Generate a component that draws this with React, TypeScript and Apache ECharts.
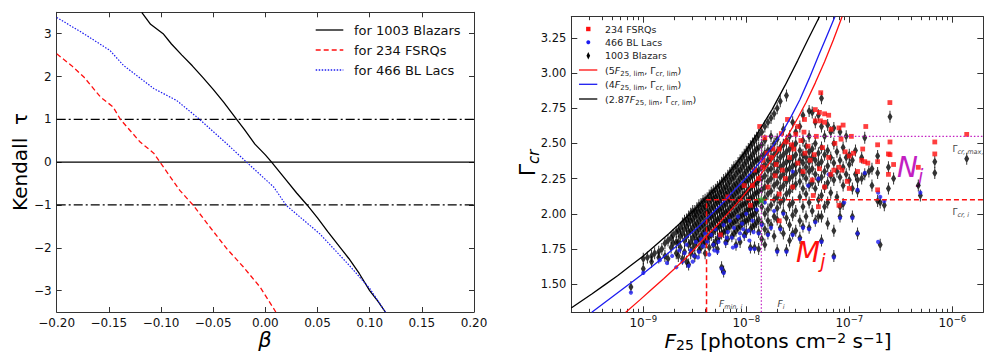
import React, { useEffect, useRef } from "react";
import * as echarts from "echarts";

// ---------- Left panel data ----------
const betaRange = [-0.2, 0.2];
const tauRange = [-3.5, 3.5];
const tauTicks = [-3, -2, -1, 0, 1, 2, 3];
const dashDotLevels = [1, -1];
const zeroLevel = 0;

const blazarTau = [
  [-0.1185, 3.5], [-0.11, 3.22], [-0.098, 3.0], [-0.09, 2.76], [-0.08, 2.5], [-0.07, 2.25],
  [-0.06, 1.98], [-0.05, 1.7], [-0.04, 1.4], [-0.0275, 1.0], [-0.02, 0.76], [-0.01, 0.42],
  [0.0, 0.17], [0.006, 0.0], [0.02, -0.42], [0.03, -0.72], [0.04, -1.0], [0.05, -1.3],
  [0.06, -1.63], [0.072, -2.0], [0.08, -2.25], [0.09, -2.6], [0.1, -3.0], [0.108, -3.25], [0.115, -3.5],
];
const fsrqTau = [
  [-0.2, 2.53], [-0.186, 2.26], [-0.174, 1.99], [-0.158, 1.52], [-0.146, 1.29], [-0.139, 1.0],
  [-0.12, 0.47], [-0.107, 0.21], [-0.101, 0.0], [-0.082, -0.66], [-0.069, -1.01], [-0.053, -1.52],
  [-0.037, -2.02], [-0.021, -2.45], [-0.005, -2.92], [0.01, -3.5],
];
const blLacTau = [
  [-0.2, 3.38], [-0.174, 3.0], [-0.149, 2.61], [-0.136, 2.26], [-0.107, 1.72], [-0.085, 1.44],
  [-0.063, 1.0], [-0.037, 0.43], [-0.018, 0.0], [0.008, -0.58], [0.02, -1.01], [0.052, -1.67],
  [0.08, -2.4], [0.1, -2.95], [0.115, -3.5],
];

// ---------- Right panel data (x = log10 F25) ----------
const logFRange = [-9.699, -5.699];
const gammaRange = [1.3, 3.4];
const gammaTicks = [1.5, 1.75, 2.0, 2.25, 2.5, 2.75, 3.0, 3.25];
const fluxDecades = [-9, -8, -7, -6];
const fluxMinorMultipliers = [2, 3, 4, 5, 6, 7, 8, 9];
const fluxMinorDecades = [-10, -9, -8, -7];

const limitCurve287 = [
  [-9.7, 1.33], [-9.6, 1.38], [-9.5, 1.43], [-9.375, 1.495], [-9.25, 1.56], [-9.125, 1.63],
  [-9.0, 1.7], [-8.875, 1.78], [-8.75, 1.86], [-8.625, 1.945], [-8.5, 2.03], [-8.375, 2.125],
  [-8.25, 2.22], [-8.125, 2.33], [-8.0, 2.45], [-7.875, 2.59], [-7.75, 2.74], [-7.625, 2.91],
  [-7.5, 3.09], [-7.4, 3.24], [-7.29, 3.4],
];
const limitCurve4 = [
  [-9.5, 1.3], [-9.4, 1.355], [-9.3, 1.41], [-9.2, 1.465], [-9.1, 1.52], [-8.975, 1.59],
  [-8.85, 1.665], [-8.725, 1.74], [-8.6, 1.82], [-8.475, 1.9], [-8.35, 1.99], [-8.225, 2.08],
  [-8.1, 2.18], [-7.975, 2.275], [-7.85, 2.38], [-7.75, 2.475], [-7.65, 2.58], [-7.565, 2.69],
  [-7.48, 2.81], [-7.39, 2.96], [-7.3, 3.12], [-7.22, 3.26], [-7.14, 3.4],
];
const limitCurve5 = [
  [-9.17, 1.3], [-9.03, 1.39], [-8.915, 1.465], [-8.8, 1.54], [-8.7, 1.607], [-8.6, 1.675],
  [-8.495, 1.755], [-8.39, 1.84], [-8.295, 1.91], [-8.2, 1.985], [-8.06, 2.1], [-7.965, 2.185],
  [-7.87, 2.27], [-7.775, 2.36], [-7.68, 2.46], [-7.59, 2.565], [-7.5, 2.68], [-7.42, 2.79],
  [-7.33, 2.93], [-7.24, 3.08], [-7.155, 3.235], [-7.07, 3.4],
];

const fMinLogI = -8.386;
const fLogI = -7.854;
const gammaCrI = 2.1;
const gammaCrMaxI = 2.55;

const blazarColumns: [number, number[]][] = [
  [-9.12, [1.48]], [-9.0, [1.61, 1.68]], [-8.96, [1.69]], [-8.92, [1.7, 1.66]], [-8.89, [1.72]],
  [-8.85, [1.73, 1.69]], [-8.82, [1.75]], [-8.79, [1.79, 1.7]], [-8.76, [1.81, 1.68]],
  [-8.73, [1.83, 1.76]], [-8.71, [1.85, 1.79]], [-8.68, [1.87, 1.8, 1.72]],
  [-8.66, [1.88, 1.8, 1.7]], [-8.64, [1.9, 1.84, 1.76]], [-8.62, [1.93, 1.86, 1.68]],
  [-8.6, [1.95, 1.89, 1.81, 1.73]], [-8.58, [1.96, 1.91, 1.84, 1.66]],
  [-8.56, [1.98, 1.93, 1.87, 1.78, 1.64]], [-8.54, [2.0, 1.95, 1.88, 1.8, 1.72]],
  [-8.52, [2.02, 1.96, 1.9, 1.83, 1.75]], [-8.5, [2.02, 1.98, 1.92, 1.85, 1.78, 1.7]],
  [-8.48, [2.04, 1.99, 1.93, 1.87, 1.81]], [-8.46, [2.06, 2.01, 1.95, 1.89, 1.82, 1.74]],
  [-8.44, [2.07, 2.02, 1.97, 1.91, 1.84, 1.76]], [-8.42, [2.09, 2.04, 1.98, 1.92, 1.86, 1.79]],
  [-8.4, [2.1, 2.05, 2.0, 1.94, 1.88, 1.8, 1.72]], [-8.38, [2.11, 2.06, 2.01, 1.95, 1.89, 1.82]],
  [-8.36, [2.13, 2.08, 2.02, 1.97, 1.9, 1.84, 1.76]], [-8.34, [2.15, 2.1, 2.04, 1.98, 1.92, 1.85]],
  [-8.32, [2.16, 2.11, 2.05, 1.99, 1.93, 1.87, 1.78]], [-8.3, [2.17, 2.12, 2.07, 2.01, 1.95, 1.89, 1.8]],
  [-8.28, [2.19, 2.13, 2.08, 2.02, 1.96, 1.9, 1.82, 1.75]], [-8.26, [2.2, 2.15, 2.09, 2.03, 1.97, 1.91, 1.84]],
  [-8.24, [2.22, 2.16, 2.11, 2.04, 1.99, 1.92, 1.86, 1.62]], [-8.22, [2.24, 2.18, 2.12, 2.06, 2.0, 1.94, 1.87, 1.59]],
  [-8.2, [2.25, 2.19, 2.14, 2.07, 2.01, 1.95, 1.88, 1.8]], [-8.18, [2.27, 2.21, 2.15, 2.09, 2.02, 1.96, 1.9, 1.82]],
  [-8.16, [2.29, 2.23, 2.17, 2.1, 2.04, 1.98, 1.91]], [-8.14, [2.31, 2.25, 2.18, 2.12, 2.05, 1.99, 1.93, 1.84]],
  [-8.12, [2.33, 2.26, 2.2, 2.13, 2.07, 2.0, 1.94, 1.86]], [-8.1, [2.34, 2.28, 2.21, 2.15, 2.08, 2.02, 1.95, 1.88, 1.78]],
  [-8.08, [2.36, 2.3, 2.23, 2.16, 2.1, 2.03, 1.97, 1.9]], [-8.06, [2.38, 2.31, 2.25, 2.18, 2.11, 2.05, 1.98, 1.91, 1.8]],
  [-8.04, [2.4, 2.33, 2.26, 2.19, 2.12, 2.06, 1.99, 1.93]], [-8.02, [2.42, 2.35, 2.28, 2.21, 2.14, 2.07, 2.0, 1.94, 1.85]],
  [-8.0, [2.44, 2.37, 2.3, 2.23, 2.15, 2.08, 2.02, 1.95, 1.87]], [-7.98, [2.46, 2.39, 2.32, 2.24, 2.17, 2.1, 2.03, 1.96]],
  [-7.96, [2.48, 2.4, 2.33, 2.26, 2.18, 2.11, 2.04, 1.98, 1.89, 1.76]], [-7.94, [2.5, 2.42, 2.35, 2.27, 2.2, 2.12, 2.05, 1.99, 1.91]],
  [-7.92, [2.52, 2.44, 2.37, 2.29, 2.21, 2.14, 2.07, 2.0, 1.92, 1.76]], [-7.9, [2.54, 2.46, 2.38, 2.3, 2.22, 2.15, 2.08, 2.02, 1.94]],
  [-7.88, [2.56, 2.47, 2.39, 2.31, 2.24, 2.16, 2.09, 1.96, 1.87, 1.75]], [-7.85, [2.58, 2.49, 2.41, 2.33, 2.25, 2.17, 2.05, 1.93, 1.82]],
  [-7.82, [2.62, 2.52, 2.43, 2.35, 2.27, 2.19, 2.11, 2.0, 1.89, 1.78]], [-7.79, [2.65, 2.45, 2.38, 2.31, 2.23, 2.14, 2.03, 1.95, 1.86]],
  [-7.76, [2.68, 2.55, 2.46, 2.39, 2.32, 2.25, 2.16, 2.06, 1.92]], [-7.73, [2.71, 2.5, 2.42, 2.35, 2.28, 2.2, 2.1, 1.98, 1.84]],
  [-7.7, [2.75, 2.53, 2.44, 2.37, 2.3, 2.22, 2.12, 2.04, 1.96, 1.74]], [-7.67, [2.8, 2.47, 2.4, 2.33, 2.26, 2.18, 2.08, 1.9]],
  [-7.64, [2.6, 2.49, 2.42, 2.35, 2.28, 2.2, 2.1, 2.01, 1.86]], [-7.61, [2.84, 2.52, 2.44, 2.37, 2.31, 2.23, 2.14, 1.97, 1.74]],
  [-7.58, [2.55, 2.46, 2.38, 2.32, 2.25, 2.16, 2.06, 1.92, 1.81]], [-7.55, [2.65, 2.48, 2.4, 2.34, 2.27, 2.19, 2.08, 1.99, 1.86]],
  [-7.52, [2.58, 2.5, 2.42, 2.35, 2.29, 2.21, 2.02, 1.88]], [-7.48, [2.62, 2.45, 2.38, 2.31, 2.23, 2.12, 1.95, 1.83]],
  [-7.45, [2.7, 2.52, 2.42, 2.36, 2.28, 2.18, 2.05, 1.91]], [-7.42, [2.48, 2.4, 2.33, 2.25, 2.14, 1.98]],
  [-7.39, [2.73, 2.55, 2.44, 2.37, 2.3, 2.2, 2.08, 1.9]], [-7.36, [2.72, 2.46, 2.4, 2.32, 2.22, 2.02]],
  [-7.33, [2.65, 2.5, 2.38, 2.28, 2.18, 1.95]], [-7.3, [2.7, 2.43, 2.35, 2.24, 2.1, 1.98]],
  [-7.27, [2.82, 2.62, 2.47, 2.37, 2.26, 2.13, 1.98, 1.81]], [-7.24, [2.55, 2.42, 2.3, 2.19, 2.05]],
  [-7.21, [2.63, 2.45, 2.34, 2.22, 2.08, 1.93]], [-7.18, [2.58, 2.4, 2.27, 2.15]],
  [-7.15, [2.61, 2.5, 2.36, 2.24, 1.88, 1.7]], [-7.12, [2.44, 2.3, 2.12]],
  [-7.09, [2.58, 2.38, 2.26, 2.05, 1.98]], [-7.06, [2.47, 2.33, 2.2, 2.07]],
  [-7.03, [2.55, 2.4, 2.28]], [-7.0, [2.42, 2.35, 2.24]], [-6.97, [2.38, 2.18, 1.98]],
  [-6.94, [2.45, 2.28]], [-6.92, [2.24, 2.16, 1.86]], [-6.88, [2.4, 2.25]], [-6.85, [2.54, 2.28]],
  [-6.81, [2.3]], [-6.78, [2.32, 2.2]], [-6.725, [2.41, 2.29, 2.09]], [-6.7, [2.08, 1.78]],
  [-6.66, [2.06]], [-6.62, [2.33, 2.18]], [-6.605, [2.69]], [-6.57, [2.25]],
  [-6.33, [2.2]], [-6.31, [2.13]], [-6.17, [2.37, 2.29]], [-5.86, [2.39]],
];

const blLacPoints = [
  [-9.12, 1.44], [-9.0, 1.58], [-8.84, 1.67], [-8.77, 1.65], [-8.72, 1.7], [-8.68, 1.62], [-8.65, 1.74],
  [-8.62, 1.66], [-8.6, 1.72], [-8.58, 1.78], [-8.56, 1.63], [-8.54, 1.74], [-8.52, 1.66], [-8.51, 1.7],
  [-8.49, 1.8], [-8.47, 1.69], [-8.46, 1.73], [-8.44, 1.82], [-8.42, 1.77], [-8.4, 1.86], [-8.38, 1.8],
  [-8.36, 1.71], [-8.34, 1.85], [-8.32, 1.78], [-8.31, 1.74], [-8.3, 1.89], [-8.28, 1.73], [-8.27, 1.8],
  [-8.26, 1.84], [-8.24, 1.61], [-8.22, 1.58], [-8.22, 1.92], [-8.2, 1.79], [-8.19, 1.83], [-8.18, 1.87],
  [-8.16, 1.95], [-8.14, 1.83], [-8.13, 1.76], [-8.12, 1.9], [-8.1, 1.77], [-8.08, 1.98], [-8.07, 1.82],
  [-8.06, 1.86], [-8.04, 1.93], [-8.03, 1.89], [-8.02, 1.84], [-8.0, 2.0], [-7.98, 1.88], [-7.97, 1.81],
  [-7.96, 1.75], [-7.94, 1.95], [-7.93, 1.87], [-7.92, 1.75], [-7.9, 2.03], [-7.88, 1.86], [-7.85, 1.92],
  [-7.82, 2.08], [-7.79, 1.85], [-7.76, 1.9], [-7.73, 2.02], [-7.7, 1.73], [-7.67, 1.89], [-7.64, 2.0],
  [-7.61, 1.73], [-7.55, 1.85], [-7.55, 2.3], [-7.48, 1.82], [-7.45, 1.9], [-7.4, 2.2], [-7.39, 1.89],
  [-7.33, 1.94], [-7.3, 2.25], [-7.27, 1.8], [-7.2, 2.28], [-7.15, 1.69], [-7.09, 1.97], [-7.05, 2.08],
  [-6.97, 1.97], [-6.92, 1.86], [-6.92, 2.17], [-6.85, 2.29], [-6.72, 1.8], [-6.72, 2.15], [-6.7, 2.12],
  [-6.66, 2.09], [-6.31, 2.15],
];

const fsrqPoints = [
  [-7.277, 2.86], [-6.606, 2.79], [-7.435, 2.67], [-7.33, 2.74], [-7.29, 2.72], [-7.24, 2.71], [-7.2, 2.7],
  [-7.33, 2.66], [-7.28, 2.66], [-7.24, 2.65], [-7.177, 2.6], [-7.1, 2.61], [-7.06, 2.63], [-6.98, 2.55],
  [-6.84, 2.62], [-6.725, 2.49], [-6.605, 2.51], [-6.605, 2.42], [-6.62, 2.425], [-6.725, 2.37], [-6.57, 2.35],
  [-6.62, 2.28], [-6.725, 2.17], [-6.33, 2.33], [-6.17, 2.51], [-6.17, 2.425], [-5.86, 2.564], [-6.85, 2.37],
  [-6.88, 2.38], [-6.82, 2.36], [-7.0, 2.41], [-6.96, 2.43], [-7.04, 2.44], [-7.1, 2.33], [-7.07, 2.31],
  [-7.18, 2.28], [-7.15, 2.31], [-7.29, 2.32], [-7.36, 2.24], [-7.24, 2.19], [-7.1, 2.06], [-7.35, 2.13],
  [-7.43, 2.43], [-7.5, 2.62], [-7.52, 2.565], [-7.56, 2.49], [-7.61, 2.51], [-7.68, 2.46], [-7.74, 2.46],
  [-7.8, 2.43], [-7.84, 2.38], [-7.71, 2.35], [-7.65, 2.31], [-7.84, 2.33], [-7.79, 2.19], [-7.68, 2.14],
  [-7.55, 2.19], [-7.82, 2.54], [-7.47, 2.52], [-7.4, 2.48], [-7.38, 2.38], [-7.45, 2.3], [-7.58, 2.4],
  [-7.62, 2.25], [-7.72, 2.27], [-7.92, 2.31], [-7.88, 2.25], [-7.94, 2.2], [-7.76, 2.4], [-7.5, 2.36],
  [-7.32, 2.55], [-7.26, 2.47], [-7.2, 2.4], [-7.14, 2.5], [-7.08, 2.53], [-6.87, 2.46], [-6.92, 2.3],
  [-7.02, 2.23], [-7.3, 2.05], [-7.68, 1.95], [-7.0, 2.18], [-7.87, 2.62], [-7.6, 2.67], [-7.66, 2.57],
  [-7.44, 2.58], [-7.54, 2.46], [-7.34, 2.42], [-8.18, 2.12], [-8.25, 1.85], [-8.02, 2.2], [-7.96, 2.06],
];

const FONT = '"DejaVu Sans", Verdana, sans-serif';
const RED = "#ff0f0f";
const BLUE = "#1c1cf0";
const MAGENTA = "#c21fc2";
const AXIS = "#333";
const DIAMOND_BAR = "path://M2.5,1.5 L5,6 L2.5,10.5 L0,6 Z M2,0 L3,0 L3,12 L2,12 Z";

const minus = (s: string) => s.replace("-", "\u2212");

export default function App() {
  const ref = useRef<HTMLDivElement>(null);

  useEffect(() => {
    if (!ref.current) return;
    const chart = echarts.init(ref.current, undefined, { renderer: "svg" });

    const blazarPoints = blazarColumns.flatMap(([x, gs]) => gs.map((g) => [x, g]));
    const minorTicks: number[] = [];
    fluxMinorDecades.forEach((d) =>
      fluxMinorMultipliers.forEach((m) => minorTicks.push(Math.log10(m) + d))
    );

    const tickStyle = { lineStyle: { color: AXIS, width: 1 } };
    const lineStyleAxis = { show: true, onZero: false, lineStyle: { color: AXIS, width: 1 } };

    const legendLeftItems = [
      { label: "for 1003 Blazars", color: "#000", dash: null as any },
      { label: "for 234 FSRQs", color: RED, dash: [5, 3] },
      { label: "for 466 BL Lacs", color: BLUE, dash: [1.5, 1.5] },
    ];
    const legendLeftY = [30, 50, 70];

    const richSmall = {
      n: { fontSize: 9.5, fontFamily: FONT, fill: "#222", lineHeight: 14, verticalAlign: "middle" },
      i: { fontSize: 9.5, fontFamily: FONT, fontStyle: "italic", fill: "#222", lineHeight: 14, verticalAlign: "middle" },
      s: { fontSize: 7, fontFamily: FONT, fill: "#222", lineHeight: 14, verticalAlign: "bottom" },
    };

    const graphics: any[] = [];
    legendLeftItems.forEach((it, k) => {
      graphics.push({
        type: "line",
        shape: { x1: 315.7, y1: legendLeftY[k], x2: 343.3, y2: legendLeftY[k] },
        style: { stroke: it.color, lineWidth: 1.3, lineDash: it.dash },
      });
      graphics.push({
        type: "text", x: 354, y: legendLeftY[k],
        style: { text: it.label, font: `13px ${FONT}`, fill: "#111", textAlign: "left", textVerticalAlign: "middle", align: "left", verticalAlign: "middle" },
      });
    });
    graphics.push({
      type: "text", x: 20, y: 162, rotation: Math.PI / 2,
      style: { text: "Kendall  τ", font: `20px ${FONT}`, fill: "#000", textAlign: "center", textVerticalAlign: "middle", align: "center", verticalAlign: "middle" },
    });
    graphics.push({
      type: "text", x: 265, y: 340,
      style: { text: "β", font: `italic 21px ${FONT}`, fill: "#000", textAlign: "center", textVerticalAlign: "middle", align: "center", verticalAlign: "middle" },
    });
    graphics.push({
      type: "text", x: 527, y: 163, rotation: Math.PI / 2,
      style: {
        text: "{g|Γ}{s|cr}", textAlign: "center", textVerticalAlign: "middle", align: "center", verticalAlign: "middle",
        rich: {
          g: { fontSize: 22, fontFamily: FONT, fill: "#000", lineHeight: 28, verticalAlign: "middle" },
          s: { fontSize: 15, fontFamily: FONT, fontStyle: "italic", fill: "#000", lineHeight: 28, verticalAlign: "bottom" },
        },
      },
    });
    graphics.push({
      type: "text", x: 778, y: 341,
      style: {
        text: "{i|F}{s|25}{n| [photons cm}{p|−2}{n| s}{p|−1}{n|]}",
        textAlign: "center", textVerticalAlign: "middle", align: "center", verticalAlign: "middle",
        rich: {
          n: { fontSize: 20, fontFamily: FONT, fill: "#000", lineHeight: 21, verticalAlign: "middle" },
          i: { fontSize: 20, fontFamily: FONT, fontStyle: "italic", fill: "#000", lineHeight: 21, verticalAlign: "middle" },
          s: { fontSize: 14, fontFamily: FONT, fill: "#000", lineHeight: 21, verticalAlign: "bottom" },
          p: { fontSize: 14, fontFamily: FONT, fill: "#000", lineHeight: 21, verticalAlign: "top" },
        },
      },
    });
    const rlx = 588.3;
    graphics.push({ type: "rect", shape: { x: rlx - 2.2, y: 29 - 2.2, width: 4.4, height: 4.4 }, style: { fill: RED } });
    graphics.push({ type: "circle", shape: { cx: rlx, cy: 42.3, r: 2 }, style: { fill: BLUE } });
    graphics.push({ type: "polygon", shape: { points: [[rlx, 52], [rlx + 1.8, 55.7], [rlx, 59.4], [rlx - 1.8, 55.7]] }, style: { fill: "#000" } });
    const rlLines = [
      { y: 70, c: RED, t: "{n|(5}{i|F}{s|25, lim}{n|, Γ}{s|cr, lim}{n|)}" },
      { y: 84.3, c: BLUE, t: "{n|(4}{i|F}{s|25, lim}{n|, Γ}{s|cr, lim}{n|)}" },
      { y: 99, c: "#000", t: "{n|(2.87}{i|F}{s|25, lim}{n|, Γ}{s|cr, lim}{n|)}" },
    ];
    const rlTexts = [
      { y: 29, t: "234 FSRQs" },
      { y: 42.3, t: "466 BL Lacs" },
      { y: 55.7, t: "1003 Blazars" },
    ];
    rlTexts.forEach((r) =>
      graphics.push({
        type: "text", x: 605, y: r.y,
        style: { text: r.t, font: `9.5px ${FONT}`, fill: "#222", textAlign: "left", textVerticalAlign: "middle", align: "left", verticalAlign: "middle" },
      })
    );
    rlLines.forEach((r) => {
      graphics.push({ type: "line", shape: { x1: 579, y1: r.y, x2: 597.3, y2: r.y }, style: { stroke: r.c, lineWidth: 1.3 } });
      graphics.push({
        type: "text", x: 605, y: r.y,
        style: { text: r.t, textAlign: "left", textVerticalAlign: "middle", align: "left", verticalAlign: "middle", rich: richSmall },
      });
    });
    const annRich = {
      n: { fontSize: 9, fontFamily: FONT, fill: "#444", lineHeight: 14, verticalAlign: "middle" },
      i: { fontSize: 9, fontFamily: FONT, fontStyle: "italic", fill: "#444", lineHeight: 14, verticalAlign: "middle" },
      s: { fontSize: 6.5, fontFamily: FONT, fontStyle: "italic", fill: "#444", lineHeight: 14, verticalAlign: "bottom" },
    };
    const annotations = [
      { x: 719, y: 303.5, t: "{i|F}{s|min, i}" },
      { x: 777.5, y: 303.5, t: "{i|F}{s|i}" },
      { x: 952.5, y: 148.5, t: "{n|Γ}{s|cr, max, i}" },
      { x: 952.5, y: 211.5, t: "{n|Γ}{s|cr, i}" },
    ];
    annotations.forEach((a) =>
      graphics.push({
        type: "text", x: a.x, y: a.y,
        style: { text: a.t, textAlign: "left", textVerticalAlign: "middle", align: "left", verticalAlign: "middle", rich: annRich },
      })
    );
    const bigLabel = (x: number, y: number, letter: string, color: string) => ({
      type: "text", x, y,
      style: {
        text: `{b|${letter}}{s|j}`, textAlign: "left", textVerticalAlign: "middle", align: "left", verticalAlign: "middle",
        rich: {
          b: { fontSize: 28, fontFamily: FONT, fontStyle: "italic", fill: color, lineHeight: 36, verticalAlign: "middle" },
          s: { fontSize: 19, fontFamily: FONT, fontStyle: "italic", fill: color, lineHeight: 36, verticalAlign: "bottom" },
        },
      },
    });
    graphics.push(bigLabel(897, 167, "N", MAGENTA));
    graphics.push(bigLabel(796, 252, "M", RED));

    const hLine = (level: number, dash: any) => ({
      type: "line", xAxisIndex: 0, yAxisIndex: 0, showSymbol: false, silent: true,
      data: [[betaRange[0], level], [betaRange[1], level]],
      lineStyle: { color: "#000", width: 1.2, type: dash },
      z: 2,
    });

    const option: any = {
      animation: false,
      textStyle: { fontFamily: FONT },
      grid: [
        { left: 56.7, top: 12.3, width: 417.3, height: 299.7 },
        { left: 571.3, top: 16.7, width: 412, height: 295.6 },
      ],
      xAxis: [
        {
          gridIndex: 0, type: "value", min: betaRange[0], max: betaRange[1], interval: 0.05, position: "bottom",
          axisLine: lineStyleAxis, axisTick: { show: true, inside: true, length: 5, ...tickStyle }, splitLine: { show: false },
          axisLabel: { fontSize: 12, color: "#111", margin: 5, formatter: (v: number) => minus((Math.abs(v) < 1e-9 ? 0 : v).toFixed(2)) },
        },
        {
          gridIndex: 0, type: "value", min: betaRange[0], max: betaRange[1], interval: 0.05, position: "top",
          axisLine: lineStyleAxis, axisTick: { show: true, inside: true, length: 5, ...tickStyle }, splitLine: { show: false },
          axisLabel: { show: false },
        },
        {
          gridIndex: 1, type: "value", min: logFRange[0], max: logFRange[1], position: "bottom",
          axisLine: lineStyleAxis, splitLine: { show: false },
          axisTick: { show: true, inside: true, length: 6, customValues: fluxDecades, ...tickStyle },
          axisLabel: {
            customValues: fluxDecades, margin: 2, color: "#111",
            formatter: (v: number) => `{b|10}{p|${minus(String(Math.round(v)))}}`,
            rich: {
              b: { fontSize: 12, fontFamily: FONT, color: "#111", lineHeight: 15, verticalAlign: "bottom" },
              p: { fontSize: 8.5, fontFamily: FONT, color: "#111", lineHeight: 15, verticalAlign: "top" },
            },
          },
        },
        {
          gridIndex: 1, type: "value", min: logFRange[0], max: logFRange[1], position: "bottom",
          axisLine: { show: false }, splitLine: { show: false }, axisLabel: { show: false },
          axisTick: { show: true, inside: true, length: 3.5, customValues: minorTicks, ...tickStyle },
        },
        {
          gridIndex: 1, type: "value", min: logFRange[0], max: logFRange[1], position: "top",
          axisLine: lineStyleAxis, splitLine: { show: false }, axisLabel: { show: false },
          axisTick: { show: true, inside: true, length: 6, customValues: fluxDecades, ...tickStyle },
        },
        {
          gridIndex: 1, type: "value", min: logFRange[0], max: logFRange[1], position: "top",
          axisLine: { show: false }, splitLine: { show: false }, axisLabel: { show: false },
          axisTick: { show: true, inside: true, length: 3.5, customValues: minorTicks, ...tickStyle },
        },
      ],
      yAxis: [
        {
          gridIndex: 0, type: "value", min: tauRange[0], max: tauRange[1], position: "left",
          axisLine: lineStyleAxis, splitLine: { show: false },
          axisTick: { show: true, inside: true, length: 5, customValues: tauTicks, ...tickStyle },
          axisLabel: { customValues: tauTicks, fontSize: 12, color: "#111", margin: 5, formatter: (v: number) => minus(String(v)) },
        },
        {
          gridIndex: 0, type: "value", min: tauRange[0], max: tauRange[1], position: "right",
          axisLine: lineStyleAxis, splitLine: { show: false }, axisLabel: { show: false },
          axisTick: { show: true, inside: true, length: 5, customValues: tauTicks, ...tickStyle },
        },
        {
          gridIndex: 1, type: "value", min: gammaRange[0], max: gammaRange[1], position: "left",
          axisLine: lineStyleAxis, splitLine: { show: false },
          axisTick: { show: true, inside: true, length: 6, customValues: gammaTicks, ...tickStyle },
          axisLabel: { customValues: gammaTicks, fontSize: 11.5, color: "#111", margin: 5, formatter: (v: number) => v.toFixed(2) },
        },
        {
          gridIndex: 1, type: "value", min: gammaRange[0], max: gammaRange[1], position: "right",
          axisLine: lineStyleAxis, splitLine: { show: false }, axisLabel: { show: false },
          axisTick: { show: true, inside: true, length: 6, customValues: gammaTicks, ...tickStyle },
        },
      ],
      series: [
        hLine(dashDotLevels[0], [9, 3, 2, 3]),
        hLine(dashDotLevels[1], [9, 3, 2, 3]),
        hLine(zeroLevel, "solid"),
        { type: "line", name: "for 1003 Blazars", xAxisIndex: 0, yAxisIndex: 0, data: blazarTau, showSymbol: false, lineStyle: { color: "#000", width: 1.3 }, z: 3 },
        { type: "line", name: "for 234 FSRQs", xAxisIndex: 0, yAxisIndex: 0, data: fsrqTau, showSymbol: false, lineStyle: { color: RED, width: 1.3, type: [5, 3] }, z: 3 },
        { type: "line", name: "for 466 BL Lacs", xAxisIndex: 0, yAxisIndex: 0, data: blLacTau, showSymbol: false, lineStyle: { color: BLUE, width: 1.2, type: [1.5, 1.5] }, z: 3 },

        { type: "scatter", name: "1003 Blazars", xAxisIndex: 2, yAxisIndex: 2, data: blazarPoints, symbol: DIAMOND_BAR, symbolSize: [5, 12], itemStyle: { color: "#000" }, z: 2 },
        { type: "scatter", name: "466 BL Lacs", xAxisIndex: 2, yAxisIndex: 2, data: blLacPoints, symbol: "circle", symbolSize: 4.2, itemStyle: { color: BLUE }, z: 3 },
        { type: "scatter", name: "234 FSRQs", xAxisIndex: 2, yAxisIndex: 2, data: fsrqPoints, symbol: "rect", symbolSize: 4.8, itemStyle: { color: RED }, z: 3 },

        { type: "line", name: "5F lim", xAxisIndex: 2, yAxisIndex: 2, data: limitCurve5, showSymbol: false, lineStyle: { color: RED, width: 1.3 }, z: 4 },
        { type: "line", name: "4F lim", xAxisIndex: 2, yAxisIndex: 2, data: limitCurve4, showSymbol: false, lineStyle: { color: BLUE, width: 1.3 }, z: 4 },
        { type: "line", name: "2.87F lim", xAxisIndex: 2, yAxisIndex: 2, data: limitCurve287, showSymbol: false, lineStyle: { color: "#000", width: 1.3 }, z: 4 },

        {
          type: "line", xAxisIndex: 2, yAxisIndex: 2, showSymbol: false,
          data: [[fMinLogI, gammaRange[0]], [fMinLogI, gammaCrI], [logFRange[1], gammaCrI]],
          lineStyle: { color: RED, width: 1.5, type: [5, 3] }, z: 5,
        },
        {
          type: "line", xAxisIndex: 2, yAxisIndex: 2, showSymbol: false,
          data: [[fLogI, gammaRange[0]], [fLogI, gammaCrMaxI], [logFRange[1], gammaCrMaxI]],
          lineStyle: { color: MAGENTA, width: 1.2, type: [1.5, 2] }, z: 5,
        },
        {
          type: "scatter", xAxisIndex: 2, yAxisIndex: 2, data: [[fLogI, gammaCrI]],
          symbol: "path://M0,-10 L2.35,-3.24 9.51,-3.09 3.8,1.24 5.88,8.09 0,4 -5.88,8.09 -3.8,1.24 -9.51,-3.09 -2.35,-3.24 Z",
          symbolSize: 10, itemStyle: { color: "#1f9a1f" }, z: 6,
        },
      ],
      graphic: graphics,
    };

    chart.setOption(option);
    return () => chart.dispose();
  }, []);

  return (
    <div
      ref={ref}
      style={{ position: "fixed", left: 0, top: 0, width: 984, height: 355, background: "#fff" }}
    />
  );
}
